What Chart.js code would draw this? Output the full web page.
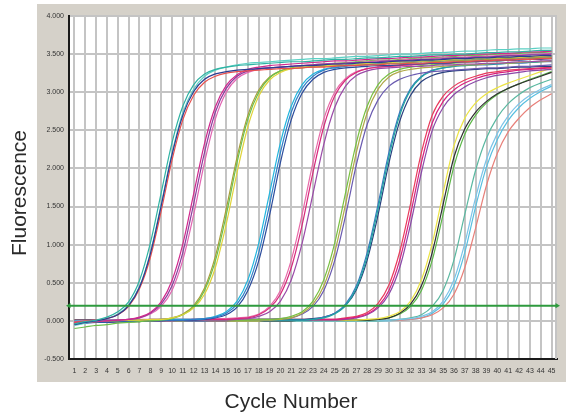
<!DOCTYPE html>
<html>
<head>
<meta charset="utf-8">
<script src="https://cdn.jsdelivr.net/npm/chart.js@4.4.1/dist/chart.umd.min.js"></script>
<style>
  html, body { margin: 0; padding: 0; background: #fff; }
  #wrap { width: 568px; height: 414px; }
</style>
</head>
<body>
<div id="wrap"><canvas id="amp"></canvas></div>
<script>
// ── Amplification plot: fluorescence per cycle, 10 dilution groups ──

const CYCLES = [
  1, 2, 3, 4, 5, 6, 7, 8, 9, 10, 11, 12, 13, 14, 15, 16, 17, 18, 19, 20, 21, 22, 23,
  24, 25, 26, 27, 28, 29, 30, 31, 32, 33, 34, 35, 36, 37, 38, 39, 40, 41, 42, 43, 44, 45
];
const Y_TICKS   = [-0.5, 0, 0.5, 1.0, 1.5, 2.0, 2.5, 3.0, 3.5, 4.0];
const THRESHOLD = 0.2;

// group 1
const G1_TEAL = [
  -0.04,-0.01,0.01,0.05,0.12,0.25,0.53,1.02,1.68,2.34,
  2.82,3.10,3.24,3.30,3.33,3.35,3.36,3.37,3.38,3.39,
  3.40,3.40,3.41,3.42,3.43,3.43,3.44,3.45,3.45,3.46,
  3.47,3.47,3.48,3.49,3.49,3.50,3.50,3.51,3.52,3.52,
  3.53,3.53,3.54,3.55,3.55];
const G1_NAVY = [
  -0.05,-0.02,0.00,0.03,0.08,0.20,0.44,0.88,1.51,2.18,
  2.70,3.01,3.17,3.24,3.27,3.29,3.30,3.31,3.32,3.33,
  3.34,3.35,3.35,3.36,3.37,3.37,3.38,3.39,3.39,3.40,
  3.41,3.41,3.42,3.42,3.43,3.44,3.44,3.45,3.45,3.46,
  3.46,3.47,3.47,3.48,3.48];
const G1_RED = [
  -0.02,0.00,0.01,0.03,0.08,0.19,0.42,0.83,1.44,2.11,
  2.64,2.96,3.13,3.21,3.25,3.27,3.28,3.29,3.30,3.31,
  3.31,3.32,3.33,3.33,3.34,3.35,3.35,3.36,3.36,3.37,
  3.37,3.38,3.38,3.39,3.39,3.40,3.40,3.41,3.41,3.42,
  3.42,3.43,3.43,3.44,3.44];
const G1_AQUA = [
  -0.06,-0.03,0.00,0.03,0.09,0.21,0.45,0.89,1.53,2.20,
  2.73,3.04,3.21,3.29,3.33,3.36,3.38,3.39,3.40,3.41,
  3.42,3.43,3.44,3.44,3.45,3.46,3.47,3.47,3.48,3.49,
  3.50,3.50,3.51,3.52,3.52,3.53,3.54,3.54,3.55,3.56,
  3.56,3.57,3.57,3.58,3.58];

// group 2
const G2_MAGENTA = [
  -0.03,-0.02,-0.01,0.00,0.01,0.02,0.05,0.11,0.25,0.53,
  1.01,1.67,2.33,2.81,3.09,3.23,3.30,3.33,3.35,3.36,
  3.37,3.38,3.39,3.40,3.41,3.41,3.42,3.43,3.44,3.44,
  3.45,3.46,3.46,3.47,3.48,3.48,3.49,3.50,3.50,3.51,
  3.51,3.52,3.53,3.53,3.54];
const G2_PURPLE = [
  -0.02,-0.01,0.00,0.00,0.01,0.02,0.04,0.10,0.22,0.46,
  0.90,1.54,2.21,2.74,3.05,3.21,3.28,3.31,3.32,3.33,
  3.34,3.35,3.36,3.37,3.37,3.38,3.39,3.39,3.40,3.41,
  3.41,3.42,3.43,3.43,3.44,3.45,3.45,3.46,3.46,3.47,
  3.48,3.48,3.49,3.49,3.50];
const G2_PINK = [
  -0.01,0.00,0.00,0.01,0.01,0.02,0.04,0.09,0.19,0.40,
  0.80,1.40,2.08,2.65,3.00,3.18,3.26,3.30,3.32,3.33,
  3.34,3.35,3.36,3.37,3.38,3.38,3.39,3.40,3.41,3.41,
  3.42,3.43,3.43,3.44,3.45,3.45,3.46,3.47,3.47,3.48,
  3.49,3.49,3.50,3.50,3.51];

// group 3
const G3_YELLOW = [
  -0.02,-0.01,0.00,0.00,0.01,0.01,0.01,0.02,0.02,0.04,
  0.08,0.17,0.35,0.70,1.27,1.95,2.55,2.95,3.16,3.26,
  3.31,3.33,3.34,3.35,3.36,3.37,3.37,3.38,3.39,3.39,
  3.40,3.41,3.41,3.42,3.42,3.43,3.44,3.44,3.45,3.45,
  3.46,3.46,3.47,3.47,3.48];
const G3_GREEN = [
  -0.10,-0.08,-0.06,-0.05,-0.03,-0.02,-0.01,0.00,0.01,0.03,
  0.08,0.18,0.40,0.79,1.39,2.08,2.65,3.00,3.19,3.28,
  3.32,3.34,3.36,3.37,3.38,3.39,3.40,3.41,3.42,3.42,
  3.43,3.44,3.45,3.45,3.46,3.47,3.48,3.48,3.49,3.50,
  3.50,3.51,3.52,3.52,3.53];
const G3_OLIVE = [
  -0.03,-0.02,-0.01,0.00,0.00,0.01,0.01,0.01,0.02,0.04,
  0.09,0.20,0.43,0.85,1.47,2.15,2.70,3.03,3.20,3.28,
  3.31,3.32,3.33,3.34,3.35,3.35,3.36,3.37,3.37,3.38,
  3.38,3.39,3.40,3.40,3.41,3.41,3.42,3.42,3.43,3.44,
  3.44,3.45,3.45,3.46,3.46];

// group 4
const G4_BLUE = [
  -0.02,-0.02,-0.01,-0.01,0.00,0.00,0.00,0.01,0.01,0.01,
  0.01,0.02,0.03,0.05,0.10,0.22,0.46,0.90,1.53,2.21,
  2.74,3.05,3.21,3.29,3.32,3.34,3.35,3.36,3.37,3.38,
  3.38,3.39,3.40,3.40,3.41,3.42,3.42,3.43,3.43,3.44,
  3.45,3.45,3.46,3.46,3.47];
const G4_CYAN = [
  0.00,0.00,0.00,0.01,0.01,0.01,0.01,0.01,0.02,0.02,
  0.02,0.02,0.03,0.06,0.12,0.26,0.54,1.02,1.68,2.34,
  2.82,3.10,3.24,3.30,3.33,3.35,3.36,3.37,3.38,3.39,
  3.40,3.41,3.41,3.42,3.43,3.44,3.45,3.45,3.46,3.47,
  3.48,3.48,3.49,3.50,3.51];
const G4_NAVY = [
  -0.04,-0.03,-0.02,-0.02,-0.01,-0.01,0.00,0.00,0.00,0.01,
  0.01,0.01,0.02,0.04,0.08,0.18,0.40,0.79,1.39,2.08,
  2.64,2.99,3.17,3.26,3.30,3.32,3.33,3.34,3.35,3.35,
  3.36,3.37,3.37,3.38,3.38,3.39,3.40,3.40,3.41,3.41,
  3.42,3.42,3.43,3.43,3.44];

// group 5
const G5_MAGENTA = [
  -0.01,-0.01,0.00,0.00,0.00,0.01,0.01,0.01,0.01,0.01,
  0.01,0.02,0.02,0.02,0.02,0.03,0.04,0.08,0.17,0.35,
  0.70,1.26,1.95,2.55,2.95,3.16,3.26,3.31,3.33,3.34,
  3.35,3.36,3.37,3.38,3.38,3.39,3.40,3.40,3.41,3.42,
  3.42,3.43,3.43,3.44,3.45];
const G5_PINK = [
  0.00,0.00,0.01,0.01,0.01,0.01,0.02,0.02,0.02,0.02,
  0.02,0.02,0.03,0.03,0.03,0.04,0.05,0.09,0.19,0.40,
  0.80,1.40,2.08,2.65,3.00,3.18,3.27,3.31,3.33,3.34,
  3.35,3.36,3.37,3.38,3.39,3.40,3.40,3.41,3.42,3.43,
  3.43,3.44,3.45,3.46,3.46];
const G5_PURPLE = [
  -0.03,-0.02,-0.02,-0.01,-0.01,-0.01,0.00,0.00,0.00,0.00,
  0.01,0.01,0.01,0.01,0.01,0.02,0.03,0.06,0.12,0.26,
  0.54,1.02,1.67,2.32,2.80,3.08,3.22,3.28,3.31,3.32,
  3.33,3.34,3.34,3.35,3.36,3.36,3.37,3.37,3.38,3.38,
  3.39,3.40,3.40,3.41,3.41];

// group 6
const G6_GREEN = [
  0.00,0.00,0.00,0.00,0.01,0.01,0.01,0.01,0.01,0.01,
  0.01,0.01,0.01,0.01,0.01,0.01,0.01,0.02,0.02,0.03,
  0.06,0.12,0.26,0.54,1.02,1.68,2.34,2.82,3.10,3.24,
  3.30,3.33,3.35,3.36,3.37,3.38,3.39,3.40,3.41,3.41,
  3.42,3.43,3.44,3.44,3.45];
const G6_OLIVE = [
  -0.02,-0.02,-0.01,-0.01,-0.01,0.00,0.00,0.00,0.00,0.00,
  0.00,0.01,0.01,0.01,0.01,0.01,0.01,0.01,0.01,0.02,
  0.04,0.10,0.22,0.46,0.90,1.53,2.21,2.73,3.04,3.20,
  3.27,3.30,3.32,3.33,3.34,3.35,3.36,3.36,3.37,3.38,
  3.38,3.39,3.40,3.40,3.41];
const G6_VIOLET = [
  -0.01,-0.01,0.00,0.00,0.00,0.00,0.01,0.01,0.01,0.01,
  0.01,0.01,0.01,0.02,0.02,0.02,0.02,0.02,0.02,0.03,
  0.04,0.09,0.19,0.40,0.79,1.38,2.05,2.58,2.90,3.08,
  3.17,3.22,3.25,3.27,3.28,3.29,3.30,3.31,3.32,3.32,
  3.33,3.34,3.34,3.35,3.36];

// group 7
const G7_TEAL = [
  0.00,0.00,0.00,0.01,0.01,0.01,0.01,0.01,0.01,0.01,
  0.01,0.01,0.01,0.01,0.01,0.01,0.01,0.01,0.01,0.01,
  0.01,0.01,0.02,0.04,0.09,0.20,0.43,0.85,1.47,2.15,
  2.70,3.03,3.20,3.28,3.32,3.34,3.35,3.36,3.37,3.37,
  3.38,3.39,3.39,3.40,3.41];
const G7_BLUE = [
  -0.02,-0.02,-0.01,-0.01,-0.01,0.00,0.00,0.00,0.00,0.00,
  0.00,0.00,0.00,0.01,0.01,0.01,0.01,0.01,0.01,0.01,
  0.01,0.01,0.02,0.05,0.10,0.22,0.46,0.90,1.53,2.21,
  2.74,3.05,3.21,3.29,3.32,3.34,3.35,3.36,3.36,3.37,
  3.38,3.38,3.39,3.40,3.40];
const G7_NAVY = [
  0.01,0.01,0.01,0.01,0.01,0.01,0.01,0.02,0.02,0.02,
  0.02,0.02,0.02,0.02,0.02,0.02,0.02,0.02,0.02,0.02,
  0.02,0.02,0.03,0.05,0.10,0.20,0.41,0.80,1.39,2.07,
  2.62,2.96,3.14,3.22,3.26,3.28,3.29,3.30,3.31,3.31,
  3.32,3.33,3.33,3.34,3.34];

// group 8
const G8_MAGENTA = [
  -0.01,-0.01,0.00,0.00,0.00,0.01,0.01,0.01,0.01,0.01,
  0.01,0.01,0.01,0.01,0.01,0.01,0.01,0.01,0.01,0.01,
  0.01,0.01,0.02,0.02,0.02,0.03,0.05,0.09,0.19,0.40,
  0.80,1.40,2.08,2.60,2.88,3.03,3.12,3.18,3.22,3.25,
  3.27,3.29,3.30,3.31,3.32];
const G8_RED = [
  0.01,0.01,0.01,0.01,0.01,0.01,0.01,0.01,0.01,0.01,
  0.01,0.01,0.01,0.01,0.01,0.02,0.02,0.02,0.02,0.02,
  0.02,0.02,0.02,0.02,0.02,0.04,0.06,0.11,0.23,0.47,
  0.91,1.54,2.21,2.70,2.95,3.08,3.16,3.21,3.25,3.27,
  3.29,3.30,3.31,3.32,3.33];
const G8_PURPLE = [
  -0.03,-0.02,-0.02,-0.01,-0.01,-0.01,0.00,0.00,0.00,0.00,
  0.00,0.00,0.00,0.00,0.00,0.01,0.01,0.01,0.01,0.01,
  0.01,0.01,0.01,0.01,0.01,0.02,0.04,0.08,0.17,0.35,
  0.70,1.27,1.95,2.50,2.80,2.97,3.07,3.14,3.19,3.22,
  3.24,3.26,3.28,3.29,3.30];

// group 9
const G9_YELLOW = [
  0.00,0.00,0.00,0.00,0.00,0.00,0.00,0.00,0.00,0.00,
  0.00,0.00,0.00,0.00,0.00,0.00,0.00,0.00,0.01,0.01,
  0.01,0.01,0.01,0.01,0.01,0.01,0.01,0.02,0.03,0.06,
  0.12,0.26,0.54,1.02,1.68,2.30,2.66,2.86,2.98,3.06,
  3.12,3.17,3.22,3.27,3.32];
const G9_BLACK = [
  -0.02,-0.02,-0.02,-0.01,-0.01,-0.01,-0.01,0.00,0.00,0.00,
  0.00,0.00,0.00,0.00,0.00,0.00,0.00,0.00,0.00,0.00,
  0.00,0.01,0.01,0.01,0.01,0.01,0.01,0.01,0.02,0.04,
  0.10,0.22,0.46,0.90,1.53,2.15,2.52,2.74,2.88,2.98,
  3.05,3.11,3.16,3.21,3.26];
const G9_GREEN = [
  0.01,0.01,0.01,0.01,0.01,0.01,0.01,0.01,0.01,0.01,
  0.01,0.01,0.01,0.01,0.01,0.01,0.01,0.01,0.01,0.01,
  0.01,0.01,0.01,0.01,0.01,0.01,0.01,0.01,0.02,0.04,
  0.09,0.19,0.40,0.80,1.40,2.03,2.45,2.70,2.86,2.97,
  3.05,3.11,3.17,3.22,3.27];

// group 10
const G10_SKY = [
  0.00,0.00,0.00,0.00,0.00,0.00,0.00,0.00,0.00,0.00,
  0.01,0.01,0.01,0.01,0.01,0.01,0.01,0.01,0.01,0.01,
  0.01,0.01,0.01,0.01,0.01,0.01,0.01,0.01,0.01,0.01,
  0.02,0.03,0.06,0.12,0.26,0.54,1.02,1.62,2.12,2.46,
  2.69,2.85,2.96,3.04,3.10];
const G10_SEA = [
  -0.01,-0.01,-0.01,-0.01,0.00,0.00,0.00,0.00,0.00,0.00,
  0.00,0.00,0.00,0.00,0.00,0.00,0.00,0.00,0.00,0.00,
  0.00,0.00,0.00,0.00,0.00,0.00,0.00,0.00,0.00,0.01,
  0.02,0.04,0.08,0.19,0.40,0.80,1.40,1.98,2.40,2.67,
  2.85,2.97,3.06,3.12,3.17];
const G10_SALMON = [
  0.01,0.01,0.01,0.01,0.01,0.01,0.01,0.01,0.01,0.01,
  0.01,0.01,0.01,0.01,0.01,0.01,0.01,0.01,0.01,0.01,
  0.01,0.01,0.01,0.01,0.01,0.01,0.01,0.01,0.01,0.01,
  0.01,0.02,0.04,0.08,0.17,0.35,0.70,1.22,1.78,2.20,
  2.48,2.66,2.80,2.90,2.98];
const G10_CYAN = [
  0.00,0.00,0.00,0.00,0.00,0.00,0.00,0.00,0.00,0.00,
  0.00,0.00,0.00,0.00,0.00,0.00,0.00,0.00,0.00,0.00,
  0.00,0.00,0.00,0.00,0.00,0.00,0.00,0.00,0.00,0.00,
  0.01,0.02,0.04,0.10,0.22,0.46,0.90,1.50,2.02,2.38,
  2.63,2.80,2.92,3.01,3.08];

// series table: [data, colour]
const SERIES = [
  [G1_TEAL, '#2fb3a3'], [G1_NAVY, '#2b3c92'], [G1_RED, '#e8504e'], [G1_AQUA, '#5cd0c4'],
  [G2_MAGENTA, '#d0288c'], [G2_PURPLE, '#8c3c9e'], [G2_PINK, '#e264b2'],
  [G3_YELLOW, '#e0d43a'], [G3_GREEN, '#6cc04a'], [G3_OLIVE, '#a89e3a'],
  [G4_BLUE, '#2f7fc8'], [G4_CYAN, '#22b6de'], [G4_NAVY, '#2c4c9c'],
  [G5_MAGENTA, '#d8287c'], [G5_PINK, '#e86aa8'], [G5_PURPLE, '#9a4aa8'],
  [G6_GREEN, '#78c040'], [G6_OLIVE, '#b0a848'], [G6_VIOLET, '#6a5ab0'],
  [G7_TEAL, '#1fa5a0'], [G7_BLUE, '#3a78c0'], [G7_NAVY, '#28407e'],
  [G8_MAGENTA, '#d8207e'], [G8_RED, '#e83c5c'], [G8_PURPLE, '#8a48a8'],
  [G9_YELLOW, '#ece444'], [G9_BLACK, '#303030'], [G9_GREEN, '#5cb848'],
  [G10_SKY, '#7cc4e8'], [G10_SEA, '#5ab8a0'], [G10_SALMON, '#e8807a'], [G10_CYAN, '#58bfe0'],
];

const GRID_COL = '#c4c4c4';
const FONT     = "'Liberation Sans', Arial, sans-serif";

// grey panel, white plot field, right/top frame and the two axis titles
const framePlugin = {
  id: 'frame',
  beforeDraw(chart) {
    const { ctx, chartArea: a } = chart;
    ctx.save();
    ctx.fillStyle = '#ffffff';
    ctx.fillRect(0, 0, chart.width, chart.height);
    ctx.fillStyle = '#d5d1c9';
    ctx.fillRect(37, 4, 529, 378);
    ctx.fillStyle = '#ffffff';
    ctx.fillRect(a.left, a.top, a.right - a.left, a.bottom - a.top);
    ctx.restore();
  },
  beforeDatasetsDraw(chart) {
    const { ctx, chartArea: a } = chart;
    ctx.save();
    ctx.strokeStyle = GRID_COL;
    ctx.lineWidth = 2;
    ctx.beginPath();
    ctx.moveTo(a.right - 1, a.top);
    ctx.lineTo(a.right - 1, a.bottom);
    ctx.stroke();
    ctx.restore();
  },
  afterDraw(chart) {
    const { ctx } = chart;
    ctx.save();
    ctx.fillStyle = '#2a2a2a';
    ctx.font = `21px ${FONT}`;
    ctx.textAlign = 'center';
    ctx.textBaseline = 'alphabetic';
    ctx.fillText('Cycle Number', 291, 408);
    ctx.translate(26, 193);
    ctx.rotate(-Math.PI / 2);
    ctx.fillText('Fluorescence', 0, 0);
    ctx.restore();
  },
};

const datasets = [
  {
    label: 'Threshold',
    data: [{ x: 0.5, y: THRESHOLD }, { x: 45.5, y: THRESHOLD }],
    borderColor: '#2e9a3e', backgroundColor: '#2e9a3e', borderWidth: 2,
    pointStyle: 'triangle', pointRadius: 3, pointRotation: [-90, 90],
    pointBorderWidth: 0, clip: 6, order: 0,
  },
  ...SERIES.map(([d, c], i) => ({
    label: 'S' + (i + 1), data: d, borderColor: c, borderWidth: 1.2,
    pointRadius: 0, cubicInterpolationMode: 'monotone', fill: false, order: 1,
  })),
];

new Chart(document.getElementById('amp'), {
  type: 'line',
  data: { labels: CYCLES, datasets },
  options: {
    responsive: true, maintainAspectRatio: false, animation: false,
    layout: { padding: { left: 37, right: 11, top: 16, bottom: 32 } },
    plugins: { legend: { display: false }, tooltip: { enabled: false } },
    scales: {
      x: {
        type: 'linear', min: 0.5, max: 45.5,
        afterBuildTicks: s => { s.ticks = CYCLES.map(v => ({ value: v })); },
        afterFit: s => { s.height = 23; },
        ticks: { autoSkip: false, maxRotation: 0, padding: 8, color: '#333',
                 font: { family: FONT, size: 7 }, callback: v => String(v) },
        grid: { color: GRID_COL, lineWidth: 2, drawTicks: false },
        border: { color: '#1a1a1a', width: 2 },
      },
      y: {
        min: -0.5, max: 4.0,
        afterBuildTicks: s => { s.ticks = Y_TICKS.map(v => ({ value: v })); },
        afterFit: s => { s.width = 32; },
        ticks: { padding: 5, color: '#333', font: { family: FONT, size: 7 },
                 callback: v => v.toFixed(3) },
        grid: { color: GRID_COL, lineWidth: 2, drawTicks: false },
        border: { color: '#1a1a1a', width: 2 },
      },
    },
  },
  plugins: [framePlugin],
});
</script>
</body>
</html>
